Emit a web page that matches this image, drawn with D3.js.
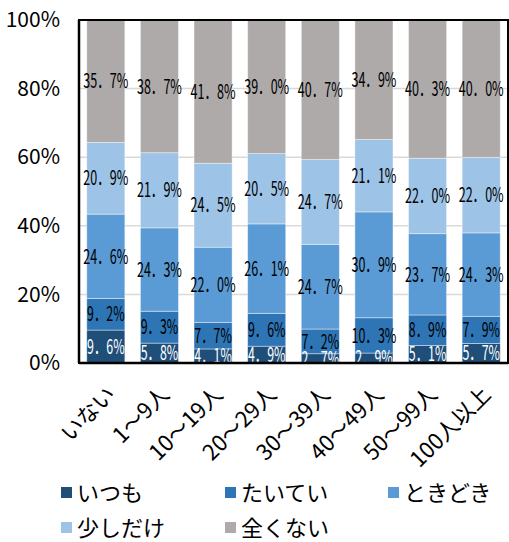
<!DOCTYPE html>
<html><head><meta charset="utf-8">
<script src="https://cdn.jsdelivr.net/npm/d3@7"></script>
<style>body{margin:0;background:#fff}svg{display:block}</style>
</head><body>
<svg id="c" width="509" height="542"></svg>
<script>
const categories = ["いない","1～9人","10～19人","20～29人","30～39人","40～49人","50～99人","100人以上"];
const seriesNames = ["いつも","たいてい","ときどき","少しだけ","全くない"];
const itsumo   = [9.6, 5.8, 4.1, 4.9, 2.7, 2.9, 5.1, 5.7];
const taitei   = [9.2, 9.3, 7.7, 9.6, 7.2, 10.3, 8.9, 7.9];
const tokidoki = [24.6, 24.3, 22.0, 26.1, 24.7, 30.9, 23.7, 24.3];
const sukoshi  = [20.9, 21.9, 24.5, 20.5, 24.7, 21.1, 22.0, 22.0];
const mattaku  = [35.7, 38.7, 41.8, 39.0, 40.7, 34.9, 40.3, 40.0];
const yTicks = [0, 20, 40, 60, 80, 100];
const colors = ["#1f4e79","#2e75b6","#5b9bd5","#9dc3e6","#aeaaaa"];
const labelColors = ["#fff","#000","#000","#000","#000"];

const seriesVals = [itsumo, taitei, tokidoki, sukoshi, mattaku];
const rows = categories.map((c,i)=>{
  const o = {cat:c};
  const tot = d3.sum(seriesVals, s=>s[i]);
  seriesNames.forEach((n,k)=>{ o[n] = seriesVals[k][i]/tot*100; o[n+"_raw"] = seriesVals[k][i]; });
  return o;
});
const stack = d3.stack().keys(seriesNames)(rows);

const m = {l:79, r:508, t:20, b:363};
const svg = d3.select("#c");
const x = d3.scaleBand().domain(categories).range([m.l, m.r]).paddingInner(0.29).paddingOuter(0.145);
const y = d3.scaleLinear().domain([0,100]).range([m.b, m.t]);
const font = "'Noto Sans CJK JP','Noto Sans',sans-serif";

// gridlines
svg.append("g").selectAll("line").data(yTicks.filter(t=>t>0&&t<100)).join("line")
  .attr("x1", m.l).attr("x2", m.r).attr("y1", d=>y(d)).attr("y2", d=>y(d))
  .attr("stroke", "#d9d9d9").attr("stroke-width", 1.5);

// bars
const g = svg.append("g");
stack.forEach((layer,k)=>{
  g.append("g").selectAll("rect").data(layer).join("rect")
    .attr("x", d=>x(d.data.cat)).attr("width", x.bandwidth())
    .attr("y", d=>y(d[1])).attr("height", d=>y(d[0])-y(d[1]))
    .attr("fill", colors[k]).attr("stroke", "rgba(255,255,255,0.5)").attr("stroke-width", 0.8);
});
// labels
stack.forEach((layer,k)=>{
  g.append("g").selectAll("text").data(layer).join("text")
    .attr("x", d=>x(d.data.cat)+x.bandwidth()/2)
    .attr("y", d=>(y(d[0])+y(d[1]))/2)
    .attr("dy", "0.36em")
    .attr("text-anchor", "middle")
    .attr("fill", labelColors[k])
    .style("font-family", font).style("font-size", "20px")
    .each(function(d){
      const v = d.data[seriesNames[k]+"_raw"];
      const s = v.toFixed(1).replace(".", "．") + "%";
      const units = s.length + 1; // fullwidth dot = 2 units
      d3.select(this).text(s).attr("textLength", units*7.5).attr("lengthAdjust","spacingAndGlyphs");
    });
});

// frame
svg.append("rect").attr("x", m.l).attr("y", m.t).attr("width", m.r-m.l).attr("height", m.b-m.t)
  .attr("fill","none").attr("stroke","#000").attr("stroke-width",2);
svg.append("line").attr("x1", m.l).attr("x2", m.r).attr("y1", m.b).attr("y2", m.b).attr("stroke","#000").attr("stroke-width",2.5);
svg.append("line").attr("x1", m.l).attr("x2", m.l).attr("y1", m.t).attr("y2", m.b).attr("stroke","#000").attr("stroke-width",2.5);

// y axis
const yAxis = svg.append("g").attr("transform", `translate(${m.l},0)`)
  .call(d3.axisLeft(y).tickValues(yTicks).tickFormat(d=>d+"%").tickSize(0).tickPadding(19));
yAxis.select(".domain").remove();
yAxis.selectAll("text").style("font-family", font).style("font-size","21px").attr("fill","#000");

// x axis
const xAxis = svg.append("g").attr("transform", `translate(0,${m.b})`)
  .call(d3.axisBottom(x).tickSize(0).tickPadding(0));
xAxis.select(".domain").remove();
xAxis.selectAll("text").style("font-family", font).style("font-size","22px").attr("fill","#000")
  .attr("text-anchor","end").attr("dy", null).attr("y", 0)
  .attr("transform", "translate(11,33) rotate(-45)");

// legend
const legendPos = [[61,493],[225,493],[388,493],[61,528],[225,528]];
const lg = svg.append("g");
seriesNames.forEach((n,k)=>{
  const [lx,ly] = legendPos[k];
  lg.append("rect").attr("x", lx).attr("y", ly-6).attr("width", 11).attr("height", 11).attr("fill", colors[k]);
  lg.append("text").attr("x", lx+16).attr("y", ly).attr("dy","0.36em").text(n)
    .style("font-family", font).style("font-size","22px").attr("fill","#000");
});
</script>
</body></html>
